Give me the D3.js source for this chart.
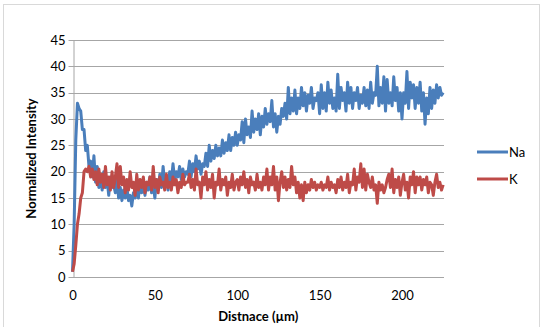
<!doctype html>
<html>
<head>
<meta charset="utf-8">
<title>Na K profile</title>
<script src="https://cdn.jsdelivr.net/npm/d3@7"></script>
<style>
  body { margin: 0; background: #fff; }
  text { font-family: Lato, "Open Sans", sans-serif; }
</style>
</head>
<body>
<svg width="545" height="327"></svg>
<script>
// Na intensity, one value per µm starting at 0
var na = [
  1, 10, 26, 33, 32, 31.5, 28, 28, 24, 25,
  21, 22, 19, 23, 18, 21, 17, 19, 16.5, 20,
  17, 18.5, 15.5, 19, 17, 17.5, 16, 18.5, 15, 17,
  14.5, 16.5, 15, 17, 14.5, 15.5, 13.5, 16, 15, 17.5,
  15, 18, 16, 17.5, 15.5, 18, 16.5, 19, 16, 17.5,
  15, 18.5, 16.5, 19.5, 17, 21, 17.5, 19, 16.5, 20,
  18, 21.5, 18.5, 20, 19, 21, 18.5, 20.5, 19, 20,
  19.5, 22, 19, 21.5, 20, 23, 20.5, 22, 19.5, 21.5,
  21, 23.5, 21, 25, 22, 24, 22.5, 25, 23, 24.5,
  23, 26, 23.5, 25.5, 24, 27, 24, 26.5, 25, 27.5,
  25, 27, 26, 29.5, 25.5, 30, 27, 28.5, 26.5, 31.5,
  27.5, 30, 28, 31, 27, 30.5, 28.5, 32, 29, 31,
  29.5, 33.5, 28.5, 31, 27.5, 30.5, 29, 32, 30.5, 33,
  30, 36, 31, 34, 31.5, 35.5, 31, 34, 32, 36,
  32.5, 35, 31.5, 34.5, 33, 36, 32, 34, 33.5, 35,
  31, 36.5, 32, 35, 31.5, 37, 33, 35.5, 32, 34,
  31.5, 38.5, 32, 36, 33.5, 35, 31.5, 37, 33, 36,
  32, 35, 33.5, 36, 32, 34.5, 33, 36, 32.5, 35.5,
  32, 37, 33, 35, 34.5, 40, 32.5, 36, 33, 38,
  31.5, 37.5, 33, 35, 32.5, 38, 33.5, 36, 31.5, 35,
  30, 35, 33, 39, 32, 37, 34, 36.5, 32, 36,
  33, 37, 31.5, 35, 29, 34, 31, 36, 32, 35.5,
  33, 36.5, 34, 36, 34.5, 35
];

// K intensity, same positions
var k = [
  1, 2.5, 6, 10, 12, 15, 16, 20, 20.5, 20,
  21, 19, 20.5, 18.5, 20, 17.5, 20.5, 18, 19.5, 17,
  21, 17.5, 19, 16.5, 20, 17, 19, 21.5, 17, 21,
  17.5, 19, 16, 18.5, 16.5, 20, 17, 18, 15.5, 19.5,
  16.5, 18.5, 17, 19, 16, 18, 17.5, 19, 16.5, 21,
  17, 18.5, 16, 19, 17.5, 18, 16.5, 19.5, 17, 18,
  16.5, 19, 17.5, 18.5, 16, 18, 17, 19.5, 17.5, 18,
  18, 19.5, 17, 18.5, 16.5, 20.5, 17.5, 18, 15, 19,
  17.5, 20, 16.5, 18.5, 17, 19.5, 15, 18, 17.5, 20.5,
  16.5, 18.5, 17.5, 19, 15.5, 18, 17, 19.5, 16.5, 18,
  18.5, 16.5, 19, 17.5, 20, 17, 18.5, 16, 19, 17.5,
  18, 16.5, 19.5, 17, 18, 16.5, 19, 17.5, 20.5, 16.5,
  19, 17.5, 21, 16.5, 19, 14.5, 18, 20, 17, 19,
  16.5, 18.5, 17, 21, 17.5, 19, 16, 18, 15, 17.5,
  14.5, 18, 16, 17.5, 16.5, 18.5, 17, 18, 16.5, 17.5,
  17, 18, 16.5, 17.5, 17, 19, 16.5, 18, 17, 17.5,
  16, 18.5, 17, 19, 16.5, 18, 17, 19.5, 16, 18,
  17.5, 20.5, 16.5, 19, 18, 21.5, 17, 20.5, 16.5, 19.5,
  18, 17, 19, 16.5, 17.5, 14, 18, 16.5, 17.5, 16,
  17, 18.5, 19.5, 17, 20.5, 16, 18.5, 17, 19, 15.5,
  18, 19.5, 16.5, 18, 15, 19, 17.5, 20, 16, 19,
  17.5, 19, 16.5, 18.5, 17.5, 19, 16, 18, 17.5, 15.5,
  18, 19.5, 17, 18, 16.5, 17.5
];

var xTicks = [0, 50, 100, 150, 200];
var yTicks = [0, 5, 10, 15, 20, 25, 30, 35, 40, 45];
var seriesNames = ["Na", "K"];
var seriesColors = ["#4a7ebb", "#be4b48"];

var svg = d3.select("svg");
var plotL = 72.5, plotR = 444, plotT = 40, plotB = 277;

// outer chart frame
svg.append("rect")
  .attr("x", 3.5).attr("y", 4.5)
  .attr("width", 536).attr("height", 330)
  .attr("fill", "none").attr("stroke", "#d9d9d9");

var x = d3.scaleLinear().domain([0, 225.5]).range([plotL, plotR]);
var y = d3.scaleLinear().domain([0, 45]).range([plotB, plotT]);

// gridlines
svg.append("g")
  .selectAll("line")
  .data(yTicks)
  .enter().append("line")
  .attr("x1", plotL - 4).attr("x2", plotR)
  .attr("y1", function(d) { return Math.round(y(d)) + 0.5; })
  .attr("y2", function(d) { return Math.round(y(d)) + 0.5; })
  .attr("stroke", "#a6a6a6");

// y axis
var gy = svg.append("g")
  .attr("transform", "translate(" + (Math.round(plotL) + 0.5) + ",0)")
  .call(d3.axisLeft(y).tickValues(yTicks).tickSize(0).tickPadding(8));
gy.select(".domain").attr("stroke", "#a6a6a6");
gy.selectAll("text").attr("font-size", 13).attr("fill", "#000");

// x axis
var gx = svg.append("g")
  .attr("transform", "translate(0," + (Math.round(plotB) + 0.5) + ")")
  .call(d3.axisBottom(x).tickValues(xTicks).tickSize(0).tickPadding(13));
gx.select(".domain").remove();
gx.selectAll("text").attr("font-size", 13).attr("fill", "#000");

var line = d3.line()
  .x(function(d, i) { return x(i); })
  .y(function(d) { return y(d); });

[na, k].forEach(function(s, i) {
  svg.append("path")
    .datum(s)
    .attr("d", line)
    .attr("fill", "none")
    .attr("stroke", seriesColors[i])
    .attr("stroke-width", 3)
    .attr("stroke-linejoin", "round");
});

// axis titles
svg.append("text")
  .attr("transform", "translate(36," + ((plotT + plotB) / 2) + ") rotate(-90)")
  .attr("text-anchor", "middle")
  .attr("font-size", 13).attr("font-weight", "bold")
  .text("Normalized Intensity");

svg.append("text")
  .attr("x", (plotL + plotR) / 2).attr("y", 321)
  .attr("text-anchor", "middle")
  .attr("font-size", 13).attr("font-weight", "bold")
  .text("Distnace (µm)");

// legend
var lg = svg.append("g").selectAll("g")
  .data(seriesNames)
  .enter().append("g")
  .attr("transform", function(d, i) { return "translate(477," + (152 + i * 27) + ")"; });
lg.append("line")
  .attr("x1", 0).attr("x2", 31)
  .attr("stroke", function(d, i) { return seriesColors[i]; })
  .attr("stroke-width", 3);
lg.append("text")
  .attr("x", 32).attr("dy", "0.36em")
  .attr("font-size", 13)
  .text(function(d) { return d; });
</script>
</body>
</html>
